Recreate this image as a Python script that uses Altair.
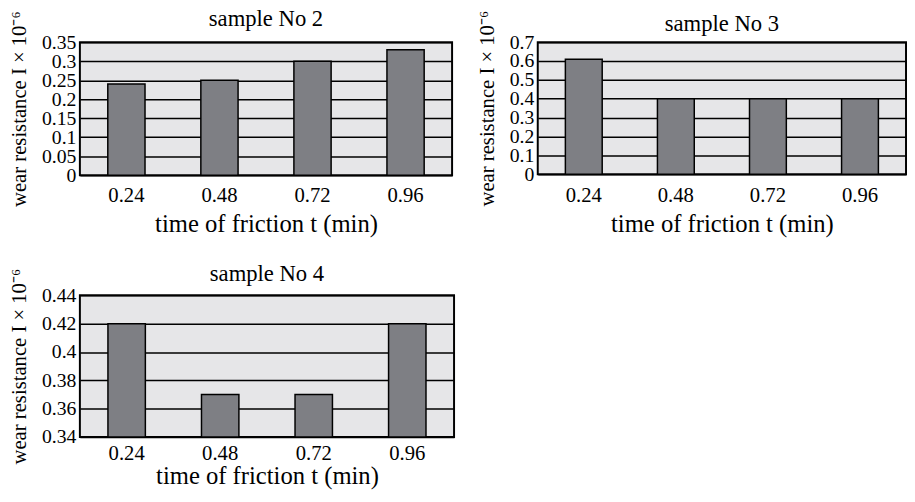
import altair as alt
import pandas as pd

times = ["0.24", "0.48", "0.72", "0.96"]
sample2 = [0.24, 0.25, 0.30, 0.33]
sample3 = [0.61, 0.40, 0.40, 0.40]
sample4 = [0.42, 0.37, 0.37, 0.42]

ticks2 = [0, 0.05, 0.1, 0.15, 0.2, 0.25, 0.3, 0.35]
ticks3 = [0, 0.1, 0.2, 0.3, 0.4, 0.5, 0.6, 0.7]
ticks4 = [0.34, 0.36, 0.38, 0.4, 0.42, 0.44]

FONT = "Liberation Serif"
BAR = "#7e7f84"
BG = "#e6e6e8"
XTITLE = "time of friction t (min)"
YTITLE = "wear resistance I × 10⁻⁶"


def panel(values, title, ticks, width, height, title_offset, xlab_pad, xtitle_pad):
    df = pd.DataFrame({"t": times, "v": values})
    lo, hi = ticks[0], ticks[-1]
    return (
        alt.Chart(df)
        .mark_bar(color=BAR, stroke="black", strokeWidth=1.5)
        .encode(
            x=alt.X(
                "t:N",
                sort=None,
                title=XTITLE,
                scale=alt.Scale(paddingInner=0.6, paddingOuter=0.3),
                axis=alt.Axis(
                    labelAngle=0,
                    ticks=False,
                    tickSize=0,
                    domain=False,
                    labelPadding=xlab_pad,
                    titlePadding=xtitle_pad,
                    labelFontSize=21,
                    titleFontSize=25,
                ),
            ),
            y=alt.Y(
                "v:Q",
                title=YTITLE,
                scale=alt.Scale(domain=[lo, hi], nice=False, zero=False),
                axis=alt.Axis(
                    values=ticks,
                    format="~g",
                    ticks=False,
                    tickSize=0,
                    domain=False,
                    grid=True,
                    gridColor="black",
                    gridWidth=1.5,
                    gridOpacity=1,
                    labelPadding=4,
                    labelOverlap=False,
                    labelFontSize=20,
                    titlePadding=12,
                    titleFontSize=21,
                ),
            ),
            y2=alt.datum(lo),
        )
        .properties(
            width=width,
            height=height,
            title=alt.TitleParams(
                title,
                font=FONT,
                fontSize=23,
                fontWeight="normal",
                color="black",
                frame="group",
                anchor="middle",
                offset=title_offset,
            ),
        )
    )


p2 = panel(sample2, "sample No 2", ticks2, 378, 135, -20.5, 10, 6)
p3 = panel(sample3, "sample No 3", ticks3, 374, 134, -26, 11, 6)
p4 = panel(sample4, "sample No 4", ticks4, 380, 144, -18, 6, 0)

chart = (
    alt.vconcat(alt.hconcat(p2, p3, spacing=22), p4, spacing=25)
    .properties(padding={"left": 0, "top": -5, "right": 0, "bottom": 0}, background="white")
    .configure_view(fill=BG, stroke="black", strokeWidth=2)
    .configure_axis(
        labelFont=FONT,
        titleFont=FONT,
        labelColor="black",
        titleColor="black",
        titleFontWeight="normal",
    )
)

chart.save("out.html", embed_options={"renderer": "svg", "actions": False})
